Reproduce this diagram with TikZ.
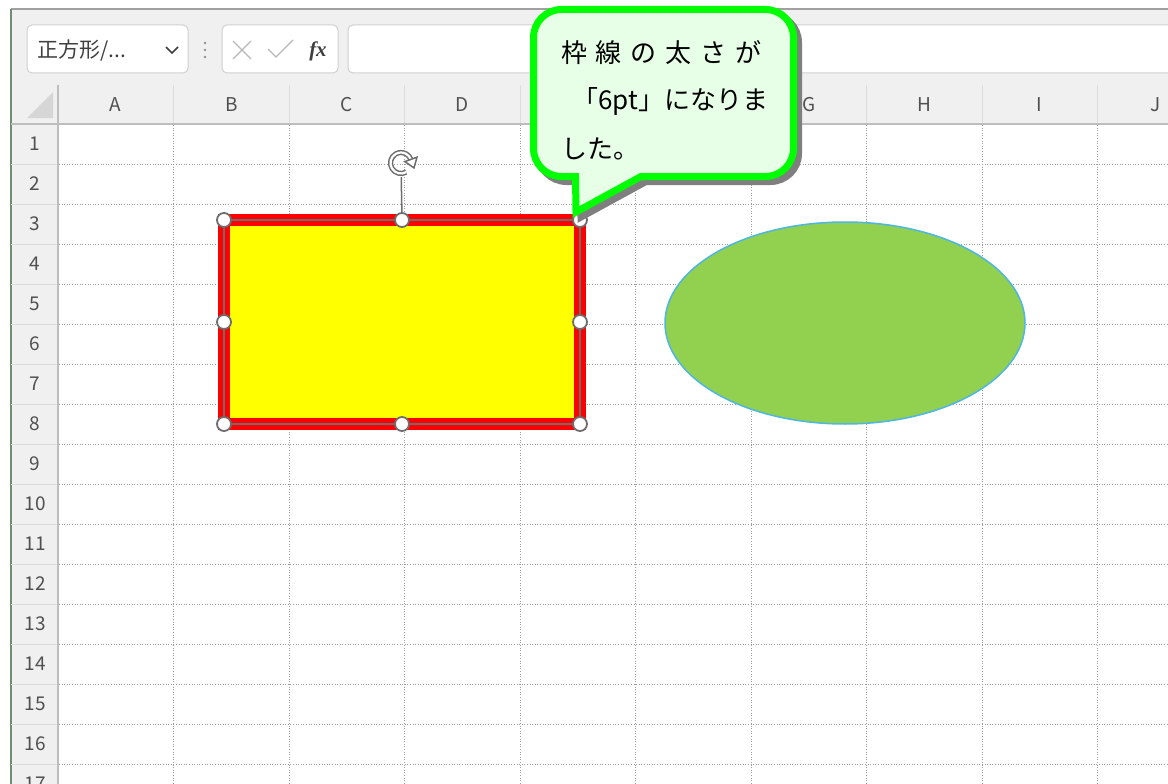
\documentclass[tikz,border=0pt]{standalone}
\usepackage{fontspec}
\setmainfont{Noto Sans CJK JP}
\newfontfamily\fxfont{Liberation Serif}
\usepackage{tikz}
\usetikzlibrary{arrows,arrows.meta,positioning,shapes.geometric}

\definecolor{barbg}{HTML}{F0F0F0}
\definecolor{framec}{HTML}{A0A0A0}
\definecolor{leftc}{HTML}{6F8F6F}
\definecolor{boxline}{HTML}{D0D0D0}
\definecolor{barfg}{HTML}{404040}
\definecolor{dotc}{HTML}{909090}
\definecolor{iconc}{HTML}{B8B8B8}
\definecolor{cornerc}{HTML}{D6D6D6}
\definecolor{sepc}{HTML}{DCDCDC}
\definecolor{hdrline}{HTML}{BDBDBD}
\definecolor{hdrfg}{HTML}{505050}
\definecolor{gridc}{HTML}{9C9C9C}
\definecolor{ovalgreen}{HTML}{92D050}
\definecolor{ovalline}{HTML}{4DB6E2}
\definecolor{shapered}{HTML}{FF0000}
\definecolor{shapeyellow}{HTML}{FFFF00}
\definecolor{gripc}{HTML}{6E6E6E}
\definecolor{shadowc}{HTML}{7F7F7F}
\definecolor{bubbleline}{HTML}{00FF00}
\definecolor{bubblefill}{HTML}{E6FFE6}

\tikzset{
  hdrtext/.style={text=hdrfg, font=\fontsize{19}{22}\selectfont, inner sep=0pt},
  hdrsep/.style={draw=sepc, line width=1pt},
  hdrrule/.style={draw=hdrline, line width=1.6pt},
  gridline/.style={draw=gridc, line width=0.9pt, dash pattern=on 1pt off 1.6pt},
  uibox/.style={draw=boxline, fill=white, line width=1pt, rounded corners=5pt},
  grip/.style={circle, draw=gripc, line width=1.8pt, fill=white, minimum size=14pt, inner sep=0pt},
  bubble/.style={draw=bubbleline, fill=bubblefill, line width=7pt},
  bubbletext/.style={font=\fontsize{26}{30}\selectfont, inner sep=0pt, anchor=west},
}

\begin{document}
\begin{tikzpicture}[x=1pt,y=-1pt,node distance=48pt]

\useasboundingbox (0,0) rectangle (1168,784);
\clip (0,0) rectangle (1168,784);

\fill[white] (0,0) rectangle (1168,784);
\fill[barbg] (11,9) rectangle (1168,124);
\fill[barbg] (11,124) rectangle (58,784);

\draw[framec, line width=2pt] (11,9) -- (1168,9);
\draw[leftc, line width=2pt] (11,9) -- (11,784);

% formula bar
\draw[uibox] (27,25) rectangle (188,73);
\node (shapename) [anchor=west, inner sep=0pt, text=barfg, font=\fontsize{21}{24}\selectfont] at (37,51) {正方形/...};
\draw[barfg, line width=1.5pt] (166,47) -- (172,53) -- (178,47);
\foreach \y in {43,50,57} \fill[dotc] (205,\y) circle (1.4pt);

\draw[uibox] (222,25) rectangle (338,73);
\draw[iconc, line width=1.3pt] (233,41) -- (251,59) (233,59) -- (251,41);
\draw[iconc, line width=1.3pt] (268,49) -- (276,57) -- (293,40);
\node (fx) [text=barfg, inner sep=0pt, font=\fxfont\fontsize{21}{24}\selectfont\bfseries\itshape] at (318,51) {fx};
\draw[uibox] (348,25) rectangle (1190,73);

% headers
\fill[cornerc] (53,92) -- (53,118) -- (27,118) -- cycle;
\foreach \i in {0,...,10} \draw[hdrsep] ({58+115.5*\i},85) -- ({58+115.5*\i},124);
\foreach \l/\i in {A/1,B/2,C/3,D/4,G/7,H/8,I/9,J/10} \node (col\l) [hdrtext] at ({58+115.5*(\i-0.5)},105) {\l};

\foreach \r in {1,...,16} \draw[hdrsep] (11,{124+40*\r}) -- (58,{124+40*\r});
\foreach \r in {1,...,17} \node (row\r) [hdrtext] at (35,{104+40*\r}) {\r};

\draw[hdrrule] (11,124) -- (1168,124);
\draw[hdrrule] (58,85) -- (58,784);

% cells
\foreach \r in {1,...,16} \draw[gridline] (59,{124+40*\r}) -- (1168,{124+40*\r});
\foreach \i in {1,...,9} \draw[gridline] ({58+115.5*\i},125) -- ({58+115.5*\i},784);

% shapes
\node (oval) [ellipse, draw=ovalline, line width=1.5pt, fill=ovalgreen, minimum width=360pt, minimum height=202pt, inner sep=0pt] at (845,323) {};

\node (box) [draw=shapered, line width=12pt, fill=shapeyellow, minimum width=356pt, minimum height=204pt, inner sep=0pt, outer sep=0pt] at (402,322) {};
\draw[gripc, line width=1.5pt] (box.north west) rectangle (box.south east);

\foreach \a [count=\k] in {north west,north,north east,east,south east,south,south west,west}
  \node (grip\k) [grip] at (box.\a) {};

\node (rot) [minimum size=28pt, inner sep=0pt] at (401,163) {};
\draw[gripc, line width=1.5pt] (rot) -- (grip2);
\draw[draw=gripc, line width=1.5pt, double=white, double distance=2.2pt] ([shift={(300:10.5pt)}]rot.center) arc[start angle=300, end angle=20, radius=10.5pt];
\filldraw[draw=gripc, fill=white, line width=1.5pt] (417,157.2) -- (414,167.9) -- (404.8,161.6) -- cycle;

% callout
\path[fill=shadowc, draw=shadowc, line width=7pt, shift={(5,5)}] (576,212) -- (575.5,176.5) [rounded corners=28pt] -- (533.5,176.5) -- (533.5,9.5) -- (793.5,9.5) -- (793.5,176.5) [sharp corners] -- (641,176.5) -- cycle;
\draw[bubble] (576,212) -- (575.5,176.5) [rounded corners=28pt] -- (533.5,176.5) -- (533.5,9.5) -- (793.5,9.5) -- (793.5,176.5) [sharp corners] -- (641,176.5) -- cycle;

\node (msg1) [bubbletext] at (561,53) {\makebox[200pt][s]{枠\hfill 線\hfill の\hfill 太\hfill さ\hfill が}};
\node (msg2) [bubbletext, below=of msg1.west, anchor=west, xshift=11pt] {「6pt」になりま};
\node (msg3) [bubbletext, below=of msg1.west, anchor=west, yshift=-48pt] {した。};

\end{tikzpicture}
\end{document}
